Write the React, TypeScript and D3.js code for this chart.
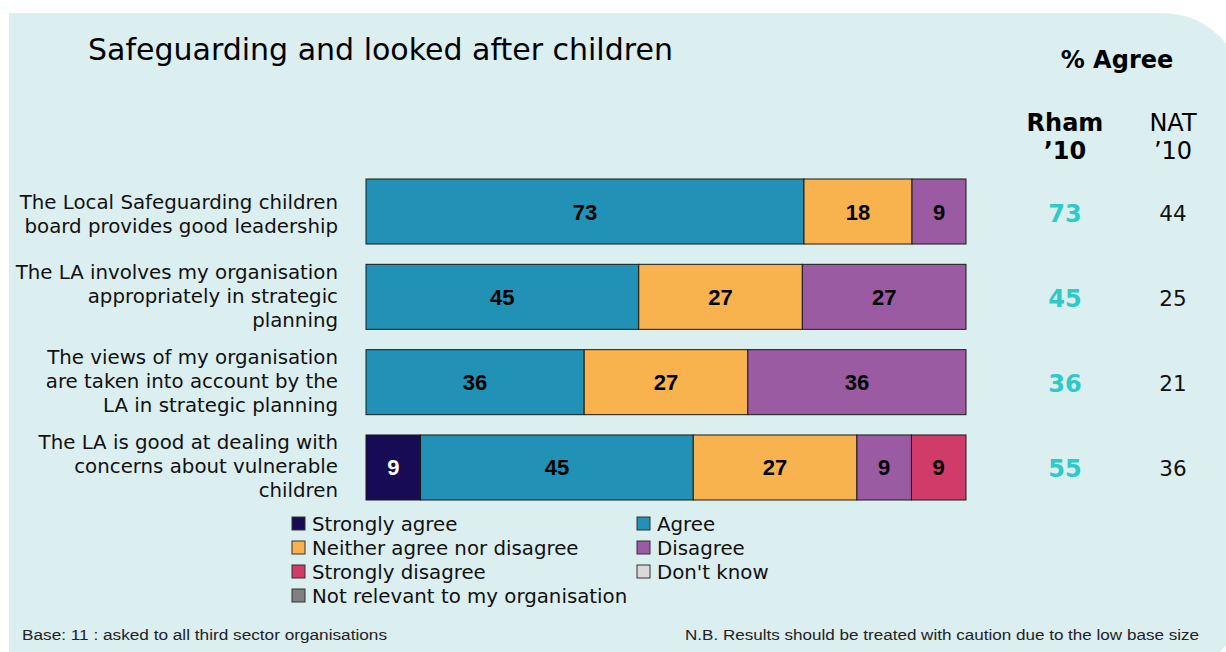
import * as d3 from 'd3';

const categories = [
  ['The Local Safeguarding children', 'board provides good leadership'],
  ['The LA involves my organisation', 'appropriately in strategic', 'planning'],
  ['The views of my organisation', 'are taken into account by the', 'LA in strategic planning'],
  ['The LA is good at dealing with', 'concerns about vulnerable', 'children'],
];

const seriesNames = [
  'Strongly agree',
  'Agree',
  'Neither agree nor disagree',
  'Disagree',
  'Strongly disagree',
  "Don't know",
  'Not relevant to my organisation',
];

const stronglyAgree = [0, 0, 0, 9];
const agree = [73, 45, 36, 45];
const neither = [18, 27, 27, 27];
const disagree = [9, 27, 36, 9];
const stronglyDisagree = [0, 0, 0, 9];
const dontKnow = [0, 0, 0, 0];
const notRelevant = [0, 0, 0, 0];

const rham = [73, 45, 36, 55];
const nat = [44, 25, 21, 36];

const colors = ['#170b56', '#2191b5', '#f8b24e', '#9a5ba3', '#d13b6a', '#d9d9d9', '#808080'];

const W = 1226;
const H = 652;
const FONT = '"DejaVu Sans", Verdana, sans-serif';
const ARIAL = '"Liberation Sans", Arial, sans-serif';

export default function App() {
  const seriesValues = [stronglyAgree, agree, neither, disagree, stronglyDisagree, dontKnow, notRelevant];
  const rows = categories.map((c, i) => {
    const r: Record<string, number> = { idx: i };
    seriesNames.forEach((s, j) => (r[s] = seriesValues[j][i]));
    return r;
  });
  const stacked = d3.stack<Record<string, number>>().keys(seriesNames)(rows);

  const y = d3.scaleBand<number>()
    .domain(categories.map((_, i) => i))
    .range([179, 500])
    .paddingInner(0.238);

  // every row is scaled to its own total (rounded values don't always sum to 100)
  const xFor = (i: number) =>
    d3.scaleLinear()
      .domain([0, d3.sum(seriesValues, v => v[i])])
      .range([366, 966]);

  const panel = 'M9,13 H1163 A80,80 0 0 1 1243,93 V596 A80,80 0 0 1 1163,676 H9 Z';

  return (
    <svg width={W} height={H} style={{ display: 'block', position: 'absolute', left: 0, top: 0 }}>
      <rect width={W} height={H} fill="#fff" />
      <path d={panel} fill="#dbeef0" />

      <text x={88} y={60} fontFamily={FONT} fontSize={30} fill="#000">
        Safeguarding and looked after children
      </text>

      <text x={1117} y={68} textAnchor="middle" fontFamily={FONT} fontSize={24} fontWeight="bold">% Agree</text>
      <text x={1065} y={131} textAnchor="middle" fontFamily={FONT} fontSize={24} fontWeight="bold">Rham</text>
      <text x={1065} y={159} textAnchor="middle" fontFamily={FONT} fontSize={24} fontWeight="bold">’10</text>
      <text x={1173} y={131} textAnchor="middle" fontFamily={FONT} fontSize={24}>NAT</text>
      <text x={1173} y={159} textAnchor="middle" fontFamily={FONT} fontSize={24}>’10</text>

      {categories.map((lines, i) => {
        const cy = (y(i) ?? 0) + y.bandwidth() / 2;
        const lh = 24;
        const start = cy - ((lines.length - 1) * lh) / 2 + 6 + (lines.length === 2 ? 3 : 0);
        return (
          <g key={i}>
            {lines.map((l, k) => (
              <text key={k} x={338} y={start + k * lh} textAnchor="end" fontFamily={FONT} fontSize={19.8} fill="#111">
                {l}
              </text>
            ))}
            <text x={1065} y={cy + 10} textAnchor="middle" fontFamily={FONT} fontSize={24} fontWeight="bold" fill="#2ecac8">
              {rham[i]}
            </text>
            <text x={1173} y={cy + 9} textAnchor="middle" fontFamily={FONT} fontSize={21.5} fill="#111">
              {nat[i]}
            </text>
          </g>
        );
      })}

      {stacked.map((s, j) => (
        <g key={s.key}>
          {s.map((d, i) => {
            const x = xFor(i);
            const w = x(d[1]) - x(d[0]);
            if (w <= 0) return null;
            const val = d[1] - d[0];
            return (
              <g key={i}>
                <rect x={x(d[0])} y={y(i)} width={w} height={y.bandwidth()} fill={colors[j]} stroke="#1a1a1a" strokeWidth={1} />
                <text
                  x={x(d[0]) + w / 2}
                  y={(y(i) ?? 0) + y.bandwidth() / 2 + 8}
                  textAnchor="middle"
                  fontFamily={ARIAL}
                  fontWeight="bold"
                  fontSize={22}
                  fill={j === 0 ? '#fff' : '#000'}
                >
                  {val}
                </text>
              </g>
            );
          })}
        </g>
      ))}

      {seriesNames.map((name, j) => {
        const col = j % 2;
        const row = Math.floor(j / 2);
        const lx = col === 0 ? 292 : 637;
        const ly = 524 + row * 24;
        return (
          <g key={name}>
            <rect x={lx} y={ly - 7} width={13} height={13} fill={colors[j]} stroke="#333" strokeWidth={1} />
            <text x={lx + 20} y={ly + 7} fontFamily={FONT} fontSize={19.8} fill="#111">{name}</text>
          </g>
        );
      })}

      <text x={22} y={640} fontFamily={ARIAL} fontSize={14} textLength={365} lengthAdjust="spacingAndGlyphs" fill="#222">
        Base: 11 : asked to all third sector organisations
      </text>
      <text x={685} y={640} fontFamily={ARIAL} fontSize={14} textLength={514} lengthAdjust="spacingAndGlyphs" fill="#222">
        N.B. Results should be treated with caution due to the low base size
      </text>
    </svg>
  );
}
